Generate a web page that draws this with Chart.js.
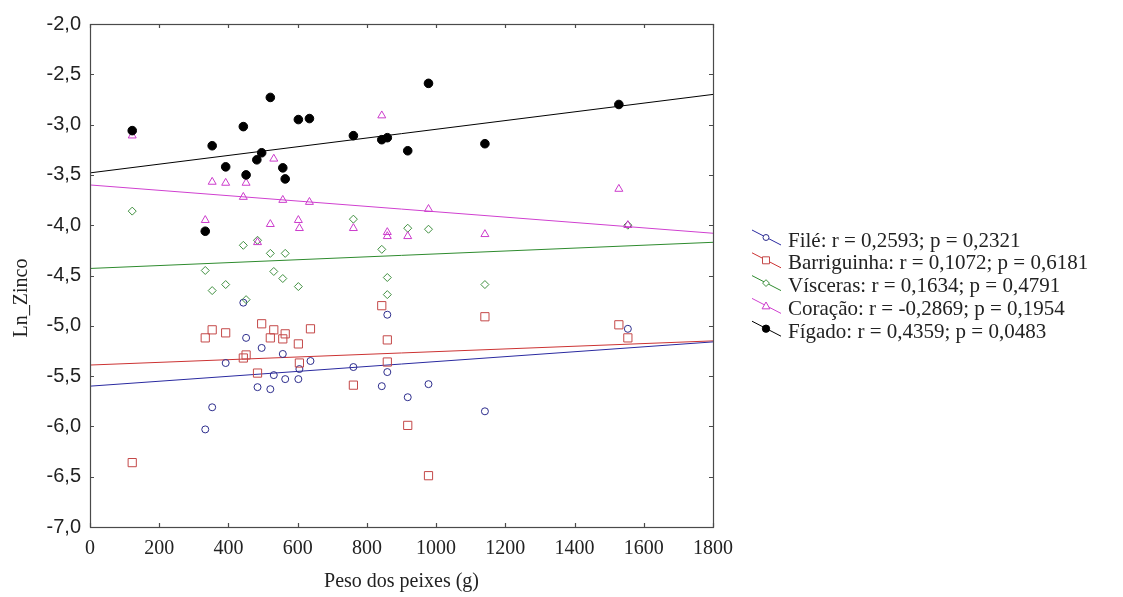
<!DOCTYPE html>
<html>
<head>
<meta charset="utf-8">
<script src="https://cdn.jsdelivr.net/npm/chart.js@4.4.1/dist/chart.umd.min.js"></script>
<style>
  html, body { margin: 0; padding: 0; background: #fff; }
  #wrap { width: 1123px; height: 597px; }
</style>
</head>
<body>
<div id="wrap"><canvas id="grafico" width="1123" height="597"></canvas></div>
<script>
// Données (peso em g, Ln_Zinco)
const xTicks = [0, 200, 400, 600, 800, 1000, 1200, 1400, 1600, 1800];
const yTicks = [-7.0, -6.5, -6.0, -5.5, -5.0, -4.5, -4.0, -3.5, -3.0, -2.5, -2.0];

const seriesNames = [
    'Filé: r = 0,2593; p = 0,2321',
    'Barriguinha: r = 0,1072; p = 0,6181',
    'Vísceras: r = 0,1634; p = 0,4791',
    'Coração: r = -0,2869; p = 0,1954',
    'Fígado: r = 0,4359; p = 0,0483'
];

const fileWeight = [333, 353, 392, 443, 451, 484, 496, 521, 531, 557, 564, 602, 605, 637, 761, 843, 859, 859, 918, 978, 1141, 1554];
const fileZn = [-6.03, -5.81, -5.37, -4.77, -5.12, -5.61, -5.22, -5.63, -5.49, -5.28, -5.53, -5.53, -5.43, -5.35, -5.41, -5.60, -4.89, -5.46, -5.71, -5.58, -5.85, -5.03];

const barrigaWeight = [122, 333, 353, 392, 443, 451, 484, 496, 521, 531, 557, 564, 602, 605, 637, 761, 843, 859, 859, 918, 978, 1141, 1528, 1554];
const barrigaZn = [-6.36, -5.12, -5.04, -5.07, -5.32, -5.29, -5.47, -4.98, -5.12, -5.04, -5.13, -5.08, -5.18, -5.37, -5.03, -5.59, -4.80, -5.14, -5.36, -5.99, -6.49, -4.91, -4.99, -5.12];

const viscerasWeight = [122, 333, 353, 392, 443, 451, 484, 521, 531, 557, 564, 602, 761, 843, 859, 859, 918, 978, 1141, 1554];
const viscerasZn = [-3.86, -4.45, -4.65, -4.59, -4.20, -4.74, -4.15, -4.28, -4.46, -4.53, -4.28, -4.61, -3.94, -4.24, -4.52, -4.69, -4.03, -4.04, -4.59, -4.00];

const coracaoWeight = [122, 333, 353, 392, 443, 451, 484, 521, 531, 557, 602, 605, 634, 761, 843, 859, 859, 918, 978, 1141, 1528, 1554];
const coracaoZn = [-3.11, -3.95, -3.57, -3.58, -3.72, -3.58, -4.17, -3.99, -3.34, -3.75, -3.95, -4.03, -3.77, -4.03, -2.91, -4.07, -4.11, -4.11, -3.84, -4.09, -3.64, -4.00];

const figadoWeight = [122, 333, 353, 392, 443, 451, 482, 496, 521, 557, 564, 602, 634, 761, 843, 859, 918, 978, 1141, 1528];
const figadoZn = [-3.06, -4.06, -3.21, -3.42, -3.02, -3.50, -3.35, -3.28, -2.73, -3.43, -3.54, -2.95, -2.94, -3.11, -3.15, -3.13, -3.26, -2.59, -3.19, -2.80];

// Droites de régression : valeur à x = 0 et à x = 1800
const fitStart = [-5.60, -5.39, -4.43, -3.60, -3.48];
const fitEnd = [-5.16, -5.15, -4.17, -4.08, -2.70];

const pointColors = ['#2c2c8c', '#c44848', '#3f8f3f', '#cc3ccc', '#000000'];
const lineColors = ['#2a2aa0', '#cc3333', '#2e8b2e', '#d040d0', '#000000'];
const pointStyles = ['circle', 'rect', 'rectRot', 'triangle', 'circle'];
const pointSizes = [3.5, 5.8, 4, 4.6, 4.3];

const serif = '"Liberation Serif", "DejaVu Serif", serif';
const sans = '"Liberation Sans", Arial, sans-serif';

function pts(xs, ys) {
    return xs.map((v, i) => ({ x: v, y: ys[i] }));
}

const rawSeries = [
    pts(fileWeight, fileZn),
    pts(barrigaWeight, barrigaZn),
    pts(viscerasWeight, viscerasZn),
    pts(coracaoWeight, coracaoZn),
    pts(figadoWeight, figadoZn)
];

const datasets = [];
rawSeries.forEach((data, i) => {
    datasets.push({
        type: 'line',
        label: seriesNames[i] + ' (fit)',
        data: [{ x: 0, y: fitStart[i] }, { x: 1800, y: fitEnd[i] }],
        borderColor: lineColors[i],
        borderWidth: 1,
        pointRadius: 0,
        fill: false,
        order: 10
    });
});
rawSeries.forEach((data, i) => {
    datasets.push({
        type: 'scatter',
        label: seriesNames[i],
        data: data,
        pointStyle: pointStyles[i],
        pointRadius: pointSizes[i],
        pointBorderColor: pointColors[i],
        pointBackgroundColor: i === 4 ? '#000000' : 'rgba(255,255,255,0)',
        pointBorderWidth: 1,
        order: 5 - i
    });
});

// Dessine un marqueur dans la légende
function marqueur(ctx, style, r, x, y, color, filled) {
    ctx.beginPath();
    if (style === 'circle') {
        ctx.arc(x, y, r, 0, Math.PI * 2);
    } else if (style === 'rect') {
        const s = r * Math.SQRT1_2;
        ctx.rect(x - s, y - s, 2 * s, 2 * s);
    } else if (style === 'rectRot') {
        ctx.moveTo(x, y - r); ctx.lineTo(x + r, y); ctx.lineTo(x, y + r); ctx.lineTo(x - r, y); ctx.closePath();
    } else {
        const h = r * 1.5;
        ctx.moveTo(x, y - r); ctx.lineTo(x + r * 0.866 * 1.15, y + h / 2); ctx.lineTo(x - r * 0.866 * 1.15, y + h / 2); ctx.closePath();
    }
    ctx.fillStyle = filled ? color : '#fff';
    ctx.fill();
    ctx.strokeStyle = color;
    ctx.lineWidth = 1;
    ctx.stroke();
}

const cadre = {
    id: 'cadre',
    afterDraw(chart) {
        const { ctx, chartArea: a, scales } = chart;
        const x = scales.x, y = scales.y;
        ctx.save();
        ctx.strokeStyle = '#4a4a4a';
        ctx.lineWidth = 1.2;
        ctx.strokeRect(Math.round(a.left) + 0.5, Math.round(a.top) + 0.5, Math.round(a.width), Math.round(a.height));

        // petites graduations vers l'intérieur
        ctx.beginPath();
        xTicks.forEach(v => {
            const px = Math.round(x.getPixelForValue(v)) + 0.5;
            ctx.moveTo(px, a.bottom); ctx.lineTo(px, a.bottom - 4);
            ctx.moveTo(px, a.top); ctx.lineTo(px, a.top + 4);
        });
        yTicks.forEach(v => {
            const py = Math.round(y.getPixelForValue(v)) + 0.5;
            ctx.moveTo(a.left, py); ctx.lineTo(a.left + 4, py);
            ctx.moveTo(a.right, py); ctx.lineTo(a.right - 4, py);
        });
        ctx.stroke();

        // titres des axes
        ctx.fillStyle = '#222';
        ctx.font = '20px ' + serif;
        ctx.textAlign = 'center';
        ctx.textBaseline = 'middle';
        ctx.fillText('Peso dos peixes (g)', (a.left + a.right) / 2, 582);
        ctx.save();
        ctx.translate(22, 298);
        ctx.rotate(-Math.PI / 2);
        ctx.fillText('Ln_Zinco', 0, 0);
        ctx.restore();

        // légende
        ctx.font = '21px ' + serif;
        ctx.textAlign = 'left';
        seriesNames.forEach((name, i) => {
            const ry = 241 + i * 22.8;
            ctx.beginPath();
            ctx.moveTo(752, ry - 11);
            ctx.lineTo(781, ry + 4);
            ctx.strokeStyle = lineColors[i];
            ctx.lineWidth = 1;
            ctx.stroke();
            marqueur(ctx, pointStyles[i], pointSizes[i] * 0.85, 766, ry - 3.5, pointColors[i], i === 4);
            ctx.fillStyle = '#222';
            ctx.fillText(name, 788, ry);
        });
        ctx.restore();
    }
};

new Chart(document.getElementById('grafico').getContext('2d'), {
    data: { datasets: datasets },
    options: {
        responsive: false,
        animation: false,
        layout: { padding: { left: 0, top: 24, right: 410, bottom: 0 } },
        plugins: {
            legend: { display: false },
            tooltip: { enabled: false }
        },
        scales: {
            x: {
                type: 'linear',
                min: 0,
                max: 1800,
                afterFit: scale => { scale.height = 70; },
                afterBuildTicks: scale => { scale.ticks = xTicks.map(v => ({ value: v })); },
                grid: { display: false, drawTicks: false },
                border: { display: false },
                ticks: {
                    padding: 10,
                    color: '#222',
                    font: { family: serif, size: 20 },
                    maxRotation: 0,
                    callback: v => String(v)
                }
            },
            y: {
                type: 'linear',
                min: -7,
                max: -2,
                afterFit: scale => { scale.width = 90; },
                afterBuildTicks: scale => { scale.ticks = yTicks.map(v => ({ value: v })); },
                grid: { display: false, drawTicks: false },
                border: { display: false },
                ticks: {
                    padding: 9,
                    color: '#222',
                    font: { family: sans, size: 20 },
                    callback: v => Number(v).toFixed(1).replace('.', ',')
                }
            }
        }
    },
    plugins: [cadre]
});
</script>
</body>
</html>
